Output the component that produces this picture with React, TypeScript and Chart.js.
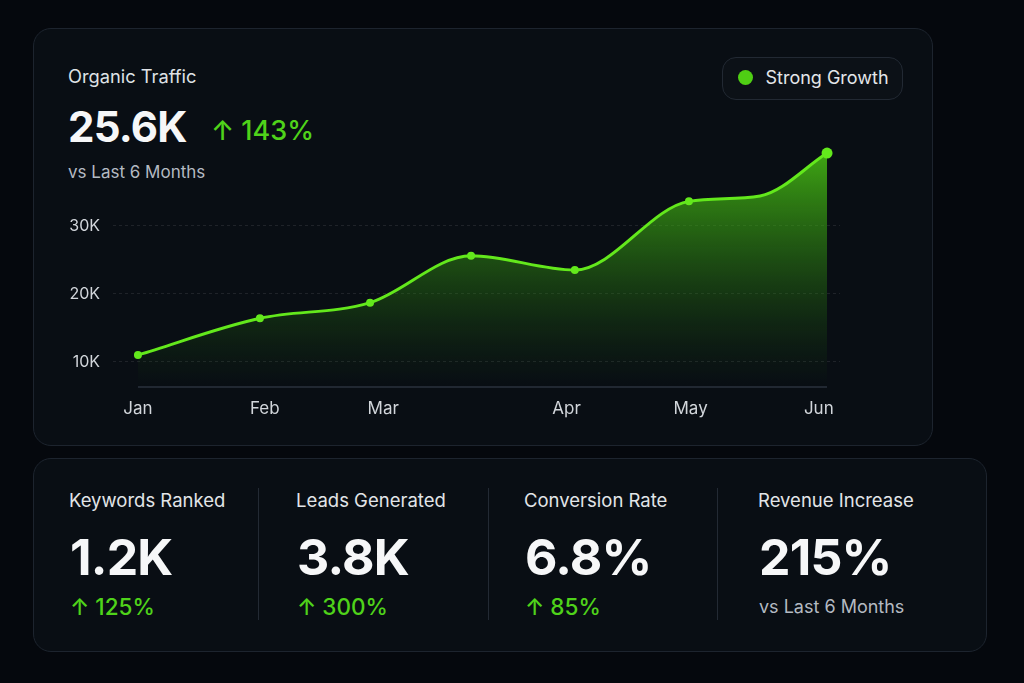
import React, { useEffect, useRef } from "react";
import { Chart, registerables } from "chart.js";

Chart.register(...registerables);

// Organic traffic series (thousands), positioned along a fractional month axis
const pointPos = [0, 0.885, 1.684, 2.417, 3.17, 3.998, 4.514, 5];
const trafficK = [11.0, 16.4, 18.7, 25.6, 23.5, 33.6, 34.4, 40.7];
const pointSizes = [4, 4, 4, 4, 4, 4, 0, 5.5];

// Month tick labels and where they sit on the x axis
const monthLabels = ["Jan", "Feb", "Mar", "Apr", "May", "Jun"];
const monthTickPos = [0, 0.92, 1.78, 3.11, 4.01, 4.94];

// Value axis ticks (thousands)
const yTicksK = [10, 20, 30];
const Y_MIN = 6.3;
const Y_MAX = 41.8;

// KPI tiles
const kpiTitles = ["Keywords Ranked", "Leads Generated", "Conversion Rate", "Revenue Increase"];
const kpiValues = ["1.2K", "3.8K", "6.8%", "215%"];
const kpiChanges = ["125%", "300%", "85%", ""];

const GREEN = "#63e81c";
const TEXT_GREEN = "#4fd31a";

function TrafficChart() {
  const ref = useRef<HTMLCanvasElement | null>(null);

  useEffect(() => {
    if (!ref.current) return;
    Chart.defaults.font.family = "Inter, 'Noto Sans', sans-serif";
    const chart = new Chart(ref.current, {
      type: "line",
      data: {
        datasets: [
          {
            label: "Organic Traffic",
            data: pointPos.map((x, i) => ({ x, y: trafficK[i] })),
            borderColor: GREEN,
            borderWidth: 3,
            cubicInterpolationMode: "monotone",
            pointRadius: pointSizes,
            pointBackgroundColor: GREEN,
            pointBorderWidth: 0,
            fill: "start",
            backgroundColor: (ctx: any) => {
              const area = ctx.chart.chartArea;
              if (!area) return "rgba(70,190,20,0.4)";
              const g = ctx.chart.ctx.createLinearGradient(0, area.top, 0, area.bottom);
              g.addColorStop(0, "rgba(74,195,20,0.88)");
              g.addColorStop(0.45, "rgba(54,155,18,0.48)");
              g.addColorStop(1, "rgba(30,90,15,0.0)");
              return g;
            },
            order: 1,
          },
          {
            label: "baseline",
            data: [
              { x: pointPos[0], y: Y_MIN },
              { x: pointPos[pointPos.length - 1], y: Y_MIN },
            ],
            borderColor: "rgba(120,135,155,0.3)",
            borderWidth: 1.5,
            pointRadius: 0,
            fill: false,
            clip: false as any,
            order: 0,
          },
        ],
      },
      options: {
        animation: false,
        responsive: false,
        maintainAspectRatio: false,
        layout: { padding: { top: 5, right: 10, left: 0, bottom: 0 } },
        plugins: { legend: { display: false }, tooltip: { enabled: false } },
        scales: {
          x: {
            type: "linear",
            min: -0.181,
            max: 5.094,
            afterBuildTicks: (scale: any) => {
              scale.ticks = monthTickPos.map((v) => ({ value: v }));
            },
            afterFit: (scale: any) => {
              scale.height = 40;
            },
            grid: { display: false, drawTicks: false },
            border: { display: false },
            ticks: {
              autoSkip: false,
              maxRotation: 0,
              padding: 12,
              color: "#d2d6db",
              font: { size: 17 },
              callback: (_v: any, i: number) => monthLabels[i],
            },
          },
          y: {
            min: Y_MIN,
            max: Y_MAX,
            afterBuildTicks: (scale: any) => {
              scale.ticks = yTicksK.map((v) => ({ value: v }));
            },
            afterFit: (scale: any) => {
              scale.width = 53;
            },
            grid: { color: "rgba(255,255,255,0.09)", drawTicks: false },
            border: { display: false, dash: [3, 3] },
            ticks: {
              padding: 13,
              color: "#d2d6db",
              font: { size: 16 },
              callback: (v: any) => `${v}K`,
            },
          },
        },
      },
    });
    return () => chart.destroy();
  }, []);

  return (
    <canvas
      ref={ref}
      width={790}
      height={304}
      style={{ position: "absolute", left: 60, top: 123, width: 790, height: 304 }}
    />
  );
}

const abs = (left: number, top: number, extra: React.CSSProperties = {}): React.CSSProperties => ({
  position: "absolute",
  left,
  top,
  lineHeight: 1,
  whiteSpace: "nowrap",
  ...extra,
});

export default function App() {
  const colX = [69, 296, 524, 758];
  const dividers = [258, 488, 717];
  return (
    <div
      style={{
        position: "fixed",
        left: 0,
        top: 0,
        width: 1024,
        height: 683,
        background: "#05080d",
        fontFamily: "Inter, 'Noto Sans', sans-serif",
        overflow: "hidden",
      }}
    >
      {/* traffic card */}
      <div
        style={{
          position: "absolute",
          left: 33,
          top: 28,
          width: 898,
          height: 416,
          borderRadius: 18,
          border: "1px solid #1d242e",
          background: "#090e14",
        }}
      />
      <div style={abs(68, 66.7, { fontSize: 18.3, color: "#dfe2e6", fontWeight: 400 })}>Organic Traffic</div>
      <div style={abs(68, 105.7, { fontSize: 42, color: "#f6f7f8", fontWeight: 700, letterSpacing: -0.8 })}>25.6K</div>
      <div style={abs(211, 116.5, { fontSize: 27, color: TEXT_GREEN, fontWeight: 500 })}>↑ 143%</div>
      <div style={abs(68, 163.6, { fontSize: 17, color: "#b4bac2" })}>vs Last 6 Months</div>

      {/* status pill */}
      <div
        style={{
          position: "absolute",
          left: 722,
          top: 57,
          width: 179,
          height: 41,
          borderRadius: 14,
          border: "1px solid #222933",
          background: "#0c1117",
        }}
      />
      <div
        style={{
          position: "absolute",
          left: 738,
          top: 70,
          width: 15,
          height: 15,
          borderRadius: "50%",
          background: "#4fcf14",
        }}
      />
      <div style={abs(765.5, 68.8, { fontSize: 18, color: "#e4e7ea" })}>Strong Growth</div>

      <TrafficChart />

      {/* KPI card */}
      <div
        style={{
          position: "absolute",
          left: 33,
          top: 458,
          width: 952,
          height: 192,
          borderRadius: 18,
          border: "1px solid #1d242e",
          background: "#090e14",
        }}
      />
      {dividers.map((x) => (
        <div
          key={x}
          style={{ position: "absolute", left: x, top: 488, width: 1, height: 132, background: "#232a34" }}
        />
      ))}
      {kpiTitles.map((t, i) => (
        <React.Fragment key={t}>
          <div style={abs(colX[i], 491, { fontSize: 18.5, color: "#e2e5e8" })}>{t}</div>
          <div style={abs(colX[i] + 1, 531.8, { fontSize: 50, color: "#f6f7f8", fontWeight: 700, letterSpacing: -0.8 })}>
            {kpiValues[i]}
          </div>
          {kpiChanges[i] ? (
            <div style={abs(colX[i] + 1, 595.5, { fontSize: 22.5, color: TEXT_GREEN, fontWeight: 500 })}>
              ↑ {kpiChanges[i]}
            </div>
          ) : (
            <div style={abs(colX[i] + 1, 597.5, { fontSize: 18, color: "#b4bac2" })}>vs Last 6 Months</div>
          )}
        </React.Fragment>
      ))}
    </div>
  );
}
